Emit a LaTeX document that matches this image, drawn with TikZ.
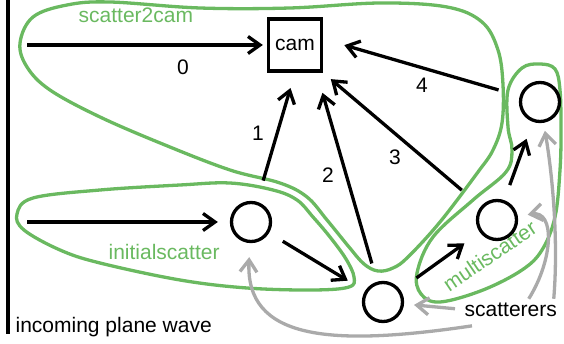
\documentclass[tikz,border=0pt]{standalone}
\usepackage{fontspec}
\setmainfont{Liberation Sans}
\usepackage{tikz}
\usetikzlibrary{arrows.meta}
\tikzset{>={Straight Barb[length=12pt,width=17pt]}}
\definecolor{blobgreen}{RGB}{106,185,96}
\definecolor{pointergray}{RGB}{170,170,170}

\begin{document}
\begin{tikzpicture}[x=1pt, y=-1pt, line width=3.3pt, font=\fontsize{21}{25}\selectfont,
  scatterer/.style={draw=black, circle, minimum size=39pt, inner sep=0pt},
  blob/.style={draw=blobgreen},
  bloblabel/.style={text=blobgreen, anchor=base west, inner sep=0pt},
  pointer/.style={->, draw=pointergray}]
  \useasboundingbox (0,0) rectangle (564,344);

  \draw[blob] plot[smooth cycle, tension=0.6] coordinates {(20,43) (33,17) (67,5) (110,2) (200,8) (290,8) (380,3) (447,7) (482,22) (498,50) (503,85) (502,123) (493,150) (478,172) (440,222) (408,257) (393,268) (378,271) (364,264) (349,247) (327,220) (307,197) (280,183) (230,170) (165,145) (100,117) (50,90) (27,67)};
  \draw[blob] plot[smooth cycle, tension=0.6] coordinates {(17,214) (33,198) (100,190) (180,185) (230,183) (273,190) (297,200) (313,217) (330,237) (346,259) (354,277) (349,287) (313,290) (247,288) (180,280) (100,263) (60,250) (24,230)};
  \draw[blob] plot[smooth cycle, tension=0.6] coordinates {(540,64) (555,69) (560,90) (561,130) (560,170) (555,217) (542,250) (522,270) (483,290) (440,302) (421,294) (417,273) (433,237) (473,200) (506,172) (512,150) (508,127) (508,90) (522,68)};

  \node[bloblabel] (LBLCAM) at (77,23) {scatter2cam};
  \node[bloblabel] (LBLINIT) at (107,260) {initialscatter};
  \node[bloblabel, rotate=34] (LBLMULTI) at (448,293) {multiscatter};

  \draw (8,0) -- (8,334);
  \node[anchor=base west, inner sep=0pt] (WAVE) at (14,332) {incoming plane wave};

  \node[draw=black, minimum width=53pt, minimum height=52pt, inner sep=0pt] (CAM) at (295,45) {cam};
  \node[scatterer] (S1) at (251,222) {};
  \node[scatterer] (S2) at (383,302) {};
  \node[scatterer] (S3) at (497,220) {};
  \node[scatterer] (S4) at (540,102) {};
  \node[anchor=base west, inner sep=2pt] (SCAT) at (461,316) {scatterers};

  \coordinate (W0) at (27,45);
  \coordinate (W1) at (27,222);

  \draw[->, shorten >=4pt] (W0) -- (CAM) node at (183,67) {0};
  \draw[->, shorten >=12pt] (W1) -- (S1);

  \draw[->, shorten <=16pt, shorten >=20pt] (S1) -- (S2);
  \draw[->, shorten <=20pt, shorten >=19pt] (S2) -- (S3);
  \draw[->, shorten <=16pt, shorten >=18pt] (S3) -- (S4);

  \draw[->, shorten <=22pt, shorten >=16pt] (S1) -- (CAM.south) node at (258,133) {1};
  \draw[->, shorten <=19pt, shorten >=21pt] (S2) -- (CAM.-52) node at (328,175) {2};
  \draw[->, shorten <=25pt, shorten >=10pt] (S3) -- (CAM.south east) node at (395,157) {3};
  \draw[->, shorten <=22pt, shorten >=22pt] (S4) -- (CAM.12) node at (422,85) {4};

  \draw[pointer, shorten <=6pt, shorten >=10pt] (SCAT.west) -- (S2);
  \draw[pointer, shorten >=14pt] ([xshift=11pt,yshift=-6pt]SCAT.south west) .. controls +(-142,21) and +(-6,118) .. (S1);
  \draw[pointer, shorten >=10pt] ([xshift=18pt]SCAT.north) .. controls +(25,-40) and +(58,-10) .. (S3);
  \draw[pointer, shorten >=8pt] ([xshift=43pt]SCAT.north) .. controls +(5,-60) and +(12,70) .. (S4);
\end{tikzpicture}
\end{document}
